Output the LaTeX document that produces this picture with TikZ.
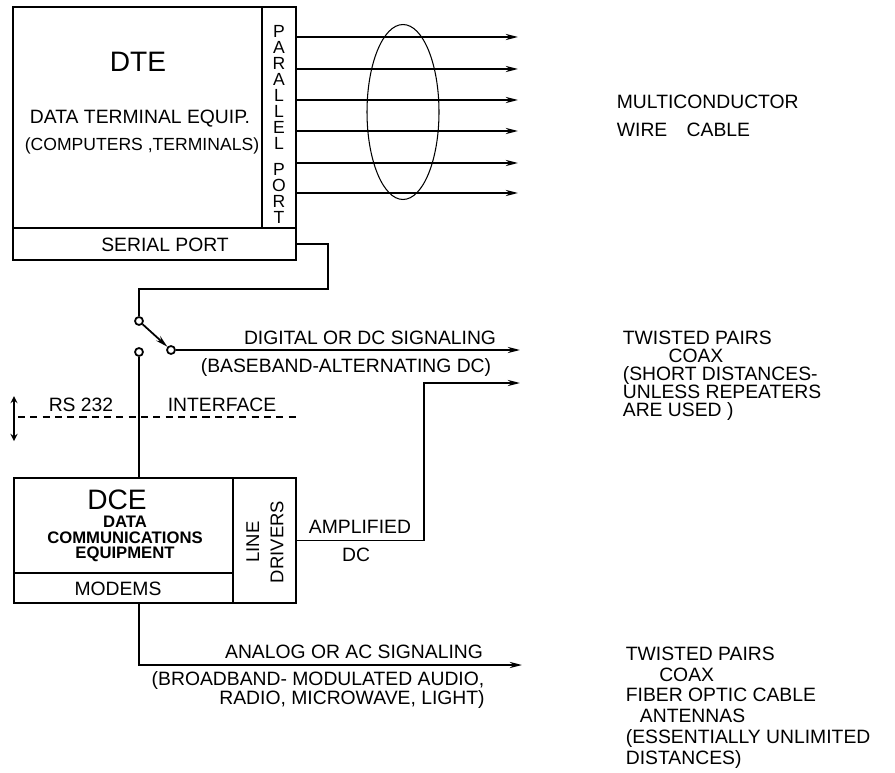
\documentclass[tikz,border=0pt]{standalone}
\usepackage{fontspec}
\setmainfont{Liberation Sans}
\usetikzlibrary{shapes.geometric,arrows.meta}
\begin{document}
\begin{tikzpicture}[>={Stealth[length=7pt,width=3.5pt]},x=0.02cm,y=-0.02cm,line width=1pt,
  box/.style={draw,rectangle,inner sep=0pt},
  contact/.style={draw,circle,fill=white,inner sep=0pt,minimum size=0.16cm},
  lbl/.style={inner sep=0pt,font=\fontsize{11}{13}\selectfont}]
\useasboundingbox (0,0) rectangle (895,773);
\node[box,minimum width=4.98cm,minimum height=4.42cm] (dte) at (137.5,117.5) {};
\node[box,minimum width=0.68cm,minimum height=4.42cm] (par) at (279,117.5) {};
\node[box,minimum width=5.66cm,minimum height=0.64cm] (ser) at (154.5,244) {};
\node[lbl,font=\fontsize{16}{18}\selectfont] (dtet) at (138,62) {DTE};
\node[lbl] (dtesub) at (140,119) {DATA TERMINAL EQUIP.};
\node[lbl,font=\fontsize{10}{12}\selectfont] (dtecomp) at (142,146) {(COMPUTERS ,TERMINALS)};
\node[lbl,font=\fontsize{10}{9.1}\selectfont,align=center] (part) at (279,124.5)
  {P\\A\\R\\A\\L\\L\\E\\L\\[5.7pt]P\\O\\R\\T};
\node[lbl] (sert) at (165,245) {SERIAL PORT};
\foreach \y/\n in {37/1,69/2,100/3,131/4,163/5,193/6}{
  \coordinate (p\n) at (518,\y);
  \draw[->] (par.east |- p\n) -- (p\n);
}
\node[draw,ellipse,line width=0.6pt,inner sep=0pt,minimum width=1.44cm,minimum height=3.5cm] (cable) at (403,112) {};
\node[lbl,anchor=north west,align=left,font=\fontsize{11}{16}\selectfont] (multi) at (616,94)
  {MULTICONDUCTOR\\WIRE\quad CABLE};
\node[contact] (s1) at (139,321) {};
\node[contact] (s2) at (171,350) {};
\node[contact] (s3) at (139,352) {};
\draw (ser.east) -| (328,289) -| (s1);
\draw[->] (s1) -- (s2);
\coordinate (digend) at (520,350);
\draw[->] (s2) -- (digend);
\node[lbl] (dig) at (370,338) {DIGITAL OR DC SIGNALING};
\node[lbl] (base) at (346,367) {(BASEBAND-ALTERNATING DC)};
\node[lbl,anchor=north west,align=left,font=\fontsize{11}{10.2}\selectfont] (twist1) at (622,330)
  {TWISTED PAIRS\\\hspace*{26pt}COAX\\(SHORT DISTANCES-\\UNLESS REPEATERS\\ARE USED )};
\coordinate (rsl) at (18,417);
\coordinate (rsr) at (297,417);
\draw[dash pattern=on 4pt off 3pt] (rsl) -- (rsr);
\coordinate (up) at (14,396);
\coordinate (dn) at (14,441);
\draw[<->,>=stealth,line width=0.8pt] (up) -- (dn);
\node[lbl] (rs) at (81,405) {RS 232};
\node[lbl] (intf) at (222,405) {INTERFACE};
\node[box,minimum width=4.38cm,minimum height=1.9cm] (dce) at (123.5,525.5) {};
\node[box,minimum width=4.38cm,minimum height=0.6cm] (modem) at (123.5,588) {};
\node[box,minimum width=1.26cm,minimum height=2.5cm] (drv) at (264.5,540.5) {};
\draw (s3) -- (s3 |- dce.north);
\node[lbl,font=\fontsize{16}{18}\selectfont] (dcet) at (117,500) {DCE};
\node[lbl,font=\fontsize{9.5}{8.8}\selectfont\bfseries,align=center] (dcesub) at (125,539)
  {DATA\\COMMUNICATIONS\\EQUIPMENT};
\node[lbl] (modt) at (118,589) {MODEMS};
\node[lbl,rotate=90,align=center,font=\fontsize{10.5}{13.7}\selectfont] (drvt) at (265,542) {LINE\\DRIVERS};
\coordinate (dcend) at (520,383);
\draw[->] (drv.east) -| (424,383) -- (dcend);
\node[lbl] (amp) at (360,527) {AMPLIFIED};
\node[lbl] (ampdc) at (356,555) {DC};
\coordinate (anaend) at (522,665);
\draw[->] (modem.south -| s3) |- (anaend);
\node[lbl] (ana) at (354,652) {ANALOG OR AC SIGNALING};
\node[lbl] (broad) at (318,680) {(BROADBAND- MODULATED AUDIO,};
\node[lbl] (radio) at (352,699) {RADIO, MICROWAVE, LIGHT)};
\node[lbl,anchor=north west,align=left,font=\fontsize{11}{11.8}\selectfont] (twist2) at (625,646)
  {TWISTED PAIRS\\\hspace*{19pt}COAX\\FIBER OPTIC CABLE\\\hspace*{8pt}ANTENNAS\\(ESSENTIALLY UNLIMITED\\DISTANCES)};
\end{tikzpicture}
\end{document}
